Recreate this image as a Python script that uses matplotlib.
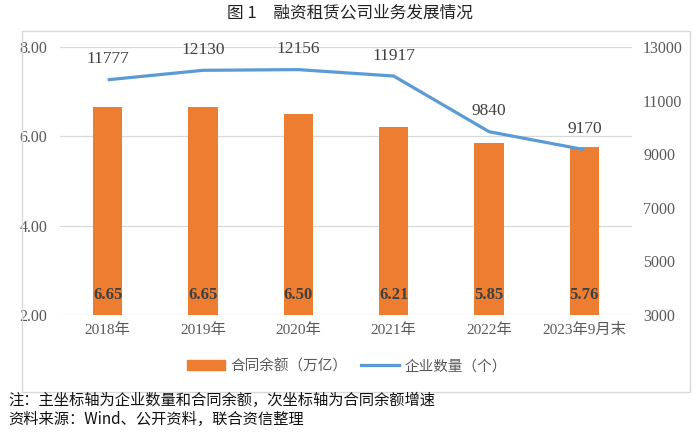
import matplotlib
matplotlib.use("Agg")
import matplotlib.pyplot as plt
from matplotlib.patches import Rectangle
from matplotlib.lines import Line2D
import numpy as np

categories = ["2018年", "2019年", "2020年", "2021年", "2022年", "2023年9月末"]
balance = [6.65, 6.65, 6.50, 6.21, 5.85, 5.76]
companies = [11777, 12130, 12156, 11917, 9840, 9170]
left_ticks = [2.0, 4.0, 6.0, 8.0]
right_ticks = [3000, 5000, 7000, 9000, 11000, 13000]

title = "图 1　融资租赁公司业务发展情况"
note1 = "注：主坐标轴为企业数量和合同余额，次坐标轴为合同余额增速"
note2 = "资料来源：Wind、公开资料，联合资信整理"
bar_label_name = "合同余额（万亿）"
line_label_name = "企业数量（个）"

cjk = "Noto Sans CJK SC"
serif_mix = ["Liberation Serif", cjk]
plt.rcParams['font.family'] = [cjk, 'DejaVu Sans']

bar_color = "#ED7D31"
line_color = "#5B9BD5"
tick_color = "#595959"

fig = plt.figure(figsize=(7.0, 4.37), dpi=100)
ax = fig.add_axes([60/700, 1-315/437, (632-60)/700, (315-47)/437])
ax2 = ax.twinx()

x = np.arange(len(categories))
ax.bar(x, balance, width=0.31, color=bar_color, zorder=2)
ax.set_ylim(2, 8)
ax.set_xlim(-0.5, len(categories)-0.5)
ax.set_yticks(left_ticks)
ax.set_yticklabels([f"{v:.2f}" for v in left_ticks], family="Liberation Serif",
                   fontsize=11.5, color=tick_color)
ax.grid(axis='y', color="#D9D9D9", linewidth=0.9, zorder=0)
ax.set_axisbelow(True)
ax.set_xticks(x)
ax.set_xticklabels(categories, family=serif_mix, fontsize=11, color=tick_color)
for s in ax.spines.values():
    s.set_visible(False)
for s in ax2.spines.values():
    s.set_visible(False)
ax.tick_params(axis='y', length=0, pad=9)
ax.tick_params(axis='x', length=0, pad=6)

for xi, v in zip(x, balance):
    ax.text(xi, 2.45, f"{v:.2f}", ha='center', va='center', family="Liberation Serif",
            fontsize=12, fontweight='bold', color="#404040", zorder=3)

ax2.plot(x, companies, color=line_color, linewidth=2.3, solid_capstyle='butt', zorder=3)
ax2.set_ylim(3000, 13000)
ax2.set_yticks(right_ticks)
ax2.set_yticklabels([str(v) for v in right_ticks], family="Liberation Serif",
                    fontsize=11.5, color=tick_color)
ax2.tick_params(axis='y', length=0, pad=8)
for xi, v in zip(x, companies):
    ax2.annotate(str(v), (xi, v), xytext=(0, 9), textcoords='offset points',
                 ha='center', va='bottom', family="Liberation Serif",
                 fontsize=12.5, color="#404040")

# chart border
fig.patches.append(Rectangle((22/700, 1-392/437), (690-22)/700, (392-31)/437,
                             transform=fig.transFigure, fill=False,
                             edgecolor="#D9D9D9", linewidth=1.0))

# legend
handles = [Rectangle((0, 0), 1, 1, color=bar_color),
           Line2D([0], [0], color=line_color, linewidth=2.3)]
fig.legend(handles, [bar_label_name, line_label_name], loc='center',
           bbox_to_anchor=(347/700, 1-366/437), ncol=2, frameon=False,
           prop={'family': cjk, 'size': 10.5}, handlelength=2.6,
           columnspacing=0.9, handletextpad=0.4, labelcolor=tick_color)

fig.text(350/700, 1-13/437, title, ha='center', va='center', fontsize=12,
         fontweight='medium', color="#222222")
fig.text(8/700, 1-400/437, note1, ha='left', va='center', fontsize=11, color="#111111")
fig.text(8/700, 1-419/437, note2, ha='left', va='center', fontsize=11, color="#111111",
         family=[cjk])

fig.savefig("out.png", dpi=100)
